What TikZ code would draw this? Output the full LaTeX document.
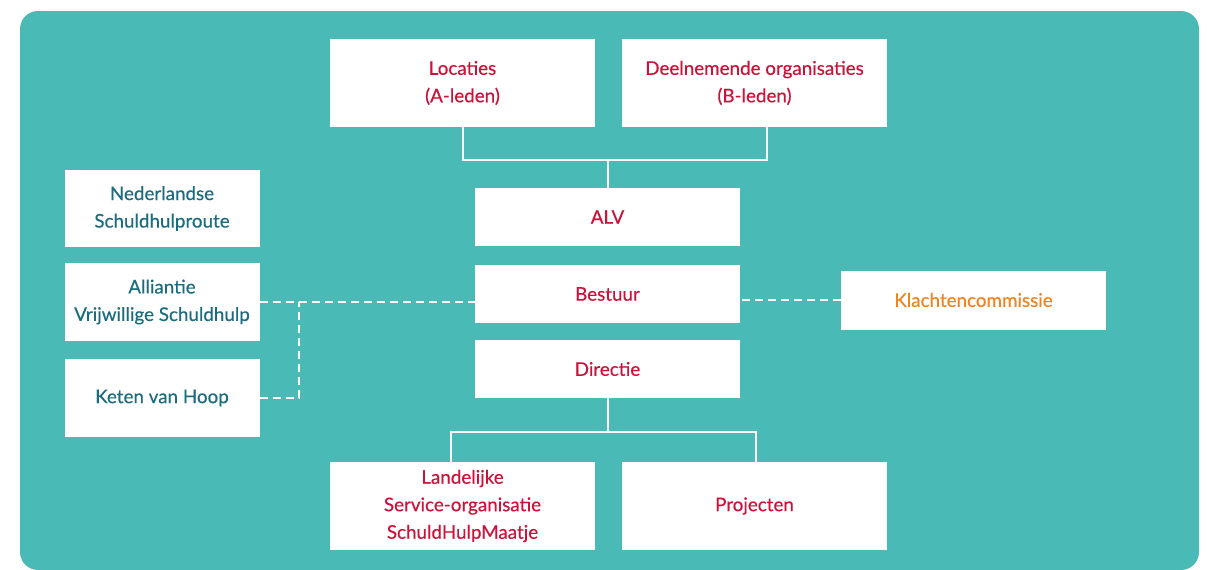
\documentclass[tikz,border=0pt]{standalone}
\usepackage{fontspec}
\setmainfont{Lato}[FakeBold=0.35]
\definecolor{bgteal}{RGB}{74,186,183}
\definecolor{tred}{RGB}{205,18,58}
\definecolor{tteal}{RGB}{28,108,128}
\definecolor{torange}{RGB}{240,132,30}
\tikzset{
  orgbox/.style={fill=white, draw=none, inner sep=0pt, align=center,
    font=\fontsize{18.8}{27.5}\selectfont, text=tred},
  wide/.style={minimum width=265pt},
  side/.style={minimum width=195pt, text=tteal},
  solidlink/.style={draw=white, line width=2pt},
  dashlink/.style={draw=white, line width=2.5pt, dash pattern=on 8pt off 5pt},
}
\begin{document}
\begin{tikzpicture}[x=1pt,y=-1pt]
\useasboundingbox (0,0) rectangle (1207,570);
\fill[bgteal, rounded corners=18pt] (20,11) rectangle (1199,570);
% central column
\node[orgbox, wide, minimum height=88pt] (loc) at (462.5,83) {Locaties\\(A-leden)};
\node[orgbox, wide, minimum height=88pt] (deel) at (754.5,83) {Deelnemende organisaties\\(B-leden)};
\node[orgbox, wide, minimum height=58pt] (alv) at (607.5,217) {ALV};
\node[orgbox, wide, minimum height=58pt] (bes) at (607.5,294) {Bestuur};
\node[orgbox, wide, minimum height=58pt] (dir) at (607.5,369) {Directie};
\node[orgbox, wide, minimum height=88pt] (lan) at (462.5,506) {Landelijke\\Service-organisatie\\SchuldHulpMaatje};
\node[orgbox, wide, minimum height=88pt] (pro) at (754.5,506) {Projecten};
% left column
\node[orgbox, side, minimum height=77pt] (ned) at (162,208.5) {Nederlandse\\Schuldhulproute};
\node[orgbox, side, minimum height=78pt] (all) at (162,302) {Alliantie\\Vrijwillige Schuldhulp};
\node[orgbox, side, minimum height=78pt] (ket) at (162,398) {Keten van Hoop};
% right
\node[orgbox, wide, minimum height=59pt, text=torange] (kla) at (973.5,300) {Klachtencommissie};
% solid connectors
\coordinate (jt) at (607.5,160);
\coordinate (jb) at (607.5,432);
\draw[solidlink] (loc.south) |- (jt) -| ([xshift=12.5pt]deel.south);
\draw[solidlink] (jt) -- (alv.north);
\draw[solidlink] (dir.south) -- (jb);
\draw[solidlink] ([xshift=-11.5pt]lan.north) |- (jb) -| ([xshift=1.5pt]pro.north);
% dashed connectors
\coordinate (jl) at (299,302);
\draw[dashlink] (all.east) -- (all.east -| bes.west);
\draw[dashlink] (ket.east) -| (jl);
\draw[dashlink] (kla.west) -- (kla.west -| bes.east);
\end{tikzpicture}
\end{document}
